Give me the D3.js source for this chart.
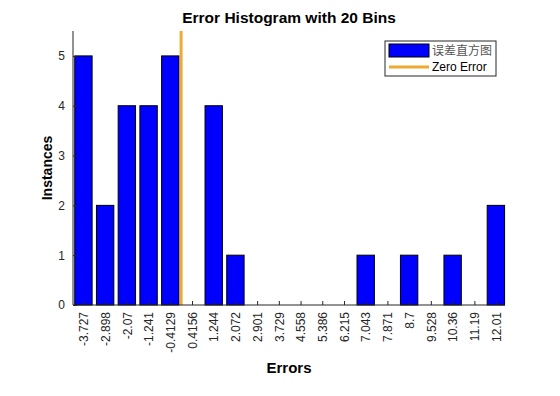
<!DOCTYPE html>
<html>
<head>
<meta charset="utf-8">
<script src="https://cdn.jsdelivr.net/npm/d3@7"></script>
<style>
  body { margin: 0; background: #fff; }
  svg text { font-family: "Liberation Sans", Arial, sans-serif; }
</style>
</head>
<body>
<svg id="chart" width="560" height="396"></svg>
<script>
// bin centres and counts
const binLabels = ['-3.727', '-2.898', '-2.07', '-1.241', '-0.4129', '0.4156', '1.244', '2.072', '2.901', '3.729',
                   '4.558', '5.386', '6.215', '7.043', '7.871', '8.7', '9.528', '10.36', '11.19', '12.01'];
const binCenters = binLabels.map(Number);
const counts = [5, 2, 4, 4, 5, 0, 4, 1, 0, 0, 0, 0, 0, 1, 0, 1, 0, 1, 0, 2];
const yTicks = [0, 1, 2, 3, 4, 5];
const zeroError = 0;

const svg = d3.select('#chart');
const m = {left: 73, right: 505, top: 31, bottom: 305};

const step = (binCenters[19] - binCenters[0]) / 19;
const x = d3.scaleLinear()
    .domain([binCenters[0] - 0.48 * step, binCenters[19] + 0.42 * step])
    .range([m.left, m.right]);
const y = d3.scaleLinear().domain([0, 5.5]).range([m.bottom, m.top]);
const barW = (x(step) - x(0)) * 0.8;

// bars
svg.append('g').selectAll('rect')
    .data(counts.map((c, i) => ({c, x: binCenters[i]})).filter(d => d.c > 0))
    .join('rect')
    .attr('x', d => x(d.x) - barW / 2)
    .attr('y', d => y(d.c))
    .attr('width', barW)
    .attr('height', d => y(0) - y(d.c))
    .attr('fill', '#0000ff')
    .attr('stroke', '#000')
    .attr('stroke-width', 1);

// zero error line
svg.append('line')
    .attr('x1', x(zeroError)).attr('x2', x(zeroError))
    .attr('y1', m.top).attr('y2', m.bottom)
    .attr('stroke', '#eeaa33')
    .attr('stroke-width', 3);

// y axis, ticks inside
const yAxis = svg.append('g')
    .attr('transform', `translate(${m.left},0)`)
    .call(d3.axisRight(y).tickValues(yTicks).tickSize(4).tickFormat(d3.format('d')));
yAxis.select('.domain').attr('d', `M0,${m.top}V${m.bottom}`).attr('stroke', '#262626');
yAxis.selectAll('.tick line').attr('stroke', '#262626');
yAxis.selectAll('.tick text')
    .attr('x', -8).attr('text-anchor', 'end')
    .attr('fill', '#262626').style('font-size', '12px');

// x axis, ticks inside, labels rotated
const xAxis = svg.append('g')
    .attr('transform', `translate(0,${m.bottom})`)
    .call(d3.axisTop(x).tickValues(binCenters).tickSize(4).tickFormat((d, i) => binLabels[i]));
xAxis.select('.domain').attr('d', `M${m.left},0H${m.right}`).attr('stroke', '#262626');
xAxis.selectAll('.tick line').attr('stroke', '#262626');
xAxis.selectAll('.tick text')
    .attr('transform', 'rotate(-90)')
    .attr('x', -7).attr('y', 0).attr('dy', '0.35em')
    .attr('text-anchor', 'end')
    .attr('fill', '#262626').style('font-size', '12px');
svg.selectAll('.tick text').style('font-family', '"Liberation Sans", Arial, sans-serif');

// titles
svg.append('text')
    .attr('x', (m.left + m.right) / 2).attr('y', 23)
    .attr('text-anchor', 'middle')
    .style('font-size', '15.5px').style('font-weight', 'bold')
    .text('Error Histogram with 20 Bins');
svg.append('text')
    .attr('x', (m.left + m.right) / 2).attr('y', 373)
    .attr('text-anchor', 'middle')
    .style('font-size', '15px').style('font-weight', 'bold')
    .text('Errors');
svg.append('text')
    .attr('transform', `translate(52,${(m.top + m.bottom) / 2}) rotate(-90)`)
    .attr('text-anchor', 'middle')
    .style('font-size', '14px').style('font-weight', 'bold')
    .text('Instances');

// legend
const lg = svg.append('g').attr('transform', 'translate(385,41)');
lg.append('rect').attr('width', 111).attr('height', 35)
    .attr('fill', '#fff').attr('stroke', '#262626').attr('stroke-width', 1);
lg.append('rect').attr('x', 4).attr('y', 3).attr('width', 40).attr('height', 13)
    .attr('fill', '#0000ff').attr('stroke', '#000').attr('stroke-width', 1);
lg.append('text').attr('x', 47).attr('y', 14)
    .style('font-family', '"Noto Sans CJK SC", sans-serif')
    .style('font-size', '12px').attr('fill', '#555')
    .text('误差直方图');
lg.append('line').attr('x1', 4).attr('x2', 44).attr('y1', 26).attr('y2', 26)
    .attr('stroke', '#eeaa33').attr('stroke-width', 3);
lg.append('text').attr('x', 47).attr('y', 30)
    .style('font-size', '12px').attr('fill', '#000')
    .text('Zero Error');
</script>
</body>
</html>
